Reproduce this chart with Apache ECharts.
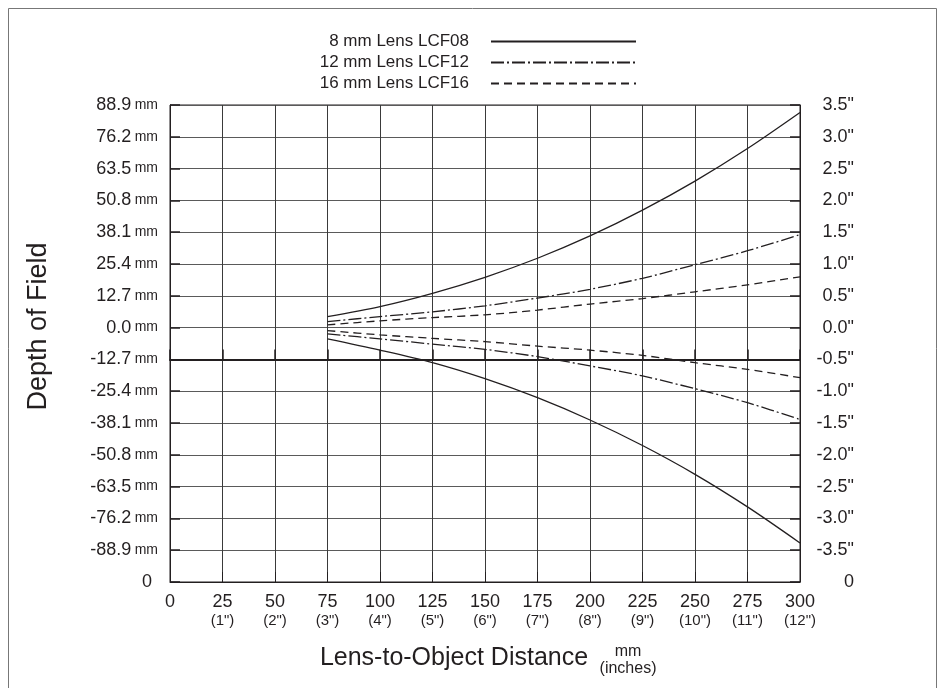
<!DOCTYPE html>
<html>
<head>
<meta charset="utf-8">
<script src="https://cdn.jsdelivr.net/npm/echarts@6/dist/echarts.min.js"></script>
<style>
html,body{margin:0;padding:0;background:#fff;}
#chart{width:942px;height:688px;}
</style>
</head>
<body>
<div id="chart"></div>
<script>
// ---- data ----
const distances = [75, 100, 125, 150, 175, 200, 225, 250, 275, 300]; // mm
const lcf08Upper = [4.4, 8.4, 13.7, 20.1, 27.7, 36.6, 46.9, 58.5, 71.5, 85.9];
const lcf08Lower = [-4.5, -9.0, -14.0, -20.4, -28.0, -36.9, -47.1, -58.6, -71.6, -86.0];
const lcf12Upper = [2.4, 4.4, 6.3, 8.7, 11.8, 15.3, 19.7, 25.1, 30.7, 37.1];
const lcf12Lower = [-2.5, -4.5, -6.6, -8.7, -11.6, -15.3, -19.3, -24.4, -30.0, -36.7];
const lcf16Upper = [1.1, 2.7, 4.0, 5.1, 7.0, 9.4, 11.6, 14.3, 17.1, 20.3];
const lcf16Lower = [-1.2, -2.9, -4.3, -5.6, -7.4, -9.0, -11.1, -14.0, -16.7, -20.0];
const lensNames = ['8 mm Lens LCF08', '12 mm Lens LCF12', '16 mm Lens LCF16'];
const xTickInterval = 25;
const mmInterval = 12.7;
const inchInterval = 0.5;

const FONT = '"Liberation Sans", Arial, Helvetica, sans-serif';
const INK = '#231f20';

function pairs(arr) { return distances.map((x, i) => [x, arr[i]]); }

const styles = [
  { type: 'solid', width: 1.3 },
  { type: [13, 3, 2, 3], width: 1.3 },
  { type: [8, 5], width: 1.3 }
];
const lensData = [[lcf08Upper, lcf08Lower], [lcf12Upper, lcf12Lower], [lcf16Upper, lcf16Lower]];

const series = [];
lensData.forEach((pair, k) => {
  pair.forEach(arr => {
    series.push({
      name: lensNames[k],
      type: 'line',
      xAxisIndex: 0,
      yAxisIndex: 0,
      data: pairs(arr),
      smooth: 0.3,
      symbol: 'none',
      showSymbol: false,
      silent: true,
      color: INK,
      lineStyle: { color: INK, width: styles[k].width, type: styles[k].type }
    });
  });
});

const chart = echarts.init(document.getElementById('chart'), null, { renderer: 'canvas' });
chart.setOption({
  backgroundColor: '#fff',
  animation: false,
  textStyle: { fontFamily: FONT, color: INK },
  grid: { left: 170, right: 142, top: 105, bottom: 106, show: true, borderColor: INK, borderWidth: 1, containLabel: false },
  legend: {
    data: lensNames,
    orient: 'vertical',
    align: 'right',
    right: 300,
    top: 28,
    itemWidth: 145,
    itemHeight: 14,
    itemGap: 4,
    selectedMode: false,
    itemStyle: { opacity: 0 },
    textStyle: { fontFamily: FONT, fontSize: 17, color: INK, padding: [0, 17, 0, 0] }
  },
  xAxis: [
    {
      type: 'value', min: 0, max: 300, interval: xTickInterval,
      position: 'bottom',
      name: 'Lens-to-Object Distance',
      nameLocation: 'middle',
      nameGap: 64,
      nameTextStyle: { fontFamily: FONT, fontSize: 25, color: INK, padding: [0, 62, 0, 0] },
      axisLine: { onZero: false, lineStyle: { color: INK, width: 1 } },
      axisTick: { inside: true, length: 10, lineStyle: { color: INK } },
      splitLine: { show: true, lineStyle: { color: '#3a3a3a', width: 1 } },
      axisLabel: {
        margin: 10,
        formatter: v => v === 0 ? '{a|0}' : '{a|' + v + '}\n{b|(' + (v / 25) + '")}',
        rich: {
          a: { fontFamily: FONT, fontSize: 18, lineHeight: 20, color: INK },
          b: { fontFamily: FONT, fontSize: 15, lineHeight: 18, color: INK }
        }
      }
    },
    {
      type: 'value', min: 0, max: 300, interval: xTickInterval,
      position: 'bottom',
      axisLine: { onZero: true, onZeroAxisIndex: 2, lineStyle: { color: INK, width: 2.2 } },
      axisTick: { inside: true, length: 10, lineStyle: { color: INK, width: 1.5 } },
      axisLabel: { show: false },
      splitLine: { show: false }
    }
  ],
  yAxis: [
    {
      type: 'value', min: -101.6, max: 88.9, interval: mmInterval,
      position: 'left',
      name: 'Depth of Field',
      nameLocation: 'middle',
      nameRotate: 90,
      nameGap: 118,
      nameTextStyle: { fontFamily: FONT, fontSize: 27, color: INK, padding: [0, 0, 0, 34] },
      axisLine: { onZero: false, lineStyle: { color: INK, width: 1 } },
      axisTick: { inside: true, length: 10, lineStyle: { color: INK, width: 1.5 } },
      splitLine: { show: true, lineStyle: { color: '#5a5a5a', width: 1 } },
      axisLabel: {
        margin: 12,
        formatter: v => {
          const r = Math.round(v * 10) / 10;
          if (Math.abs(r + 101.6) < 0.05) return '{z|0}';
          return '{a|' + r.toFixed(1) + '} {b|mm}';
        },
        rich: {
          a: { fontFamily: FONT, fontSize: 18, color: INK },
          b: { fontFamily: FONT, fontSize: 14, color: INK },
          z: { fontFamily: FONT, fontSize: 18, color: INK, padding: [0, 6, 0, 0] }
        }
      }
    },
    {
      type: 'value', min: -4.0, max: 3.5, interval: inchInterval,
      position: 'right',
      axisLine: { onZero: false, lineStyle: { color: INK, width: 1 } },
      axisTick: { inside: true, length: 10, lineStyle: { color: INK, width: 1.5 } },
      splitLine: { show: false },
      axisLabel: {
        margin: 54,
        align: 'right',
        fontFamily: FONT, fontSize: 18, color: INK,
        formatter: v => {
          const r = Math.round(v * 10) / 10;
          if (Math.abs(r + 4.0) < 0.05) return '0';
          return r.toFixed(1) + '"';
        }
      }
    },
    {
      // hidden axis whose zero sits at the -12.7 mm reference line
      type: 'value', min: -88.9, max: 101.6, interval: mmInterval,
      show: false,
      position: 'left'
    }
  ],
  graphic: [
    { type: 'rect', silent: true, z: -1, shape: { x: 8.5, y: 8.5, width: 928, height: 700 }, style: { fill: 'none', stroke: '#777', lineWidth: 1 } },
    { type: 'text', silent: true, x: 628, y: 652, style: { text: 'mm', fontFamily: FONT, fontSize: 16, fill: INK, align: 'center', verticalAlign: 'middle' } },
    { type: 'text', silent: true, x: 628, y: 669, style: { text: '(inches)', fontFamily: FONT, fontSize: 16, fill: INK, align: 'center', verticalAlign: 'middle' } }
  ],
  series: series
});
</script>
</body>
</html>
